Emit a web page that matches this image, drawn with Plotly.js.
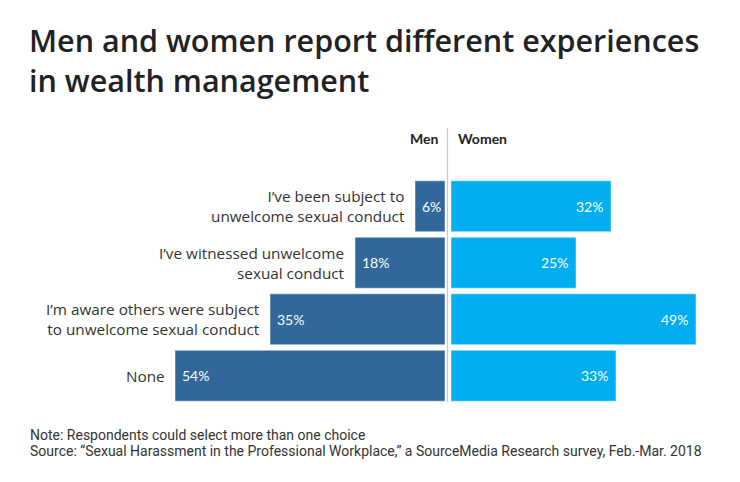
<!DOCTYPE html>
<html>
<head>
<meta charset="utf-8">
<script src="https://cdn.plot.ly/plotly-3.0.1.min.js"></script>
<style>html,body{margin:0;padding:0;background:#fff}#chart{width:740px;height:482px}</style>
</head>
<body>
<div id="chart"></div>
<script>
const categories = [
  "I\u2019ve been subject to<br>unwelcome sexual conduct",
  "I\u2019ve witnessed unwelcome<br>sexual conduct",
  "I\u2019m aware others were subject<br>to unwelcome sexual conduct",
  "None"
];
const men = [6, 18, 35, 54];
const women = [32, 25, 49, 33];
const seriesNames = ["Men", "Women"];
const titleLines = ["Men and women report different experiences", "in wealth management"];
const noteText = "Note: Respondents could select more than one choice";
const sourceText = "Source: \u201cSexual Harassment in the Professional Workplace,\u201d a SourceMedia Research survey, Feb.-Mar. 2018";

const W = 740, H = 482;
const mt = 178, mb = 78;
const plotH = H - mt - mb;
const pxToPaperY = py => (H - mb - py) / plotH;
const scale = 5; // px per percent
const menRight = 445, womenLeft = 451;

const menColor = "#31679a";
const womenColor = "#00aeef";
const font = "Lato, 'Open Sans', sans-serif";
const wideFont = "'Open Sans', sans-serif";

const traces = [
  {type: "bar", orientation: "h", name: seriesNames[0], x: men, y: categories,
   xaxis: "x", yaxis: "y", marker: {color: menColor, line: {color: "rgba(255,255,255,0.45)", width: 1}},
   hoverinfo: "x+y"},
  {type: "bar", orientation: "h", name: seriesNames[1], x: women, y: categories,
   xaxis: "x2", yaxis: "y", marker: {color: womenColor, line: {color: "rgba(255,255,255,0.45)", width: 1}},
   hoverinfo: "x+y"}
];

const annotations = [];
categories.forEach((c, i) => {
  annotations.push({xref: "x", yref: "y", x: men[i], y: c, text: c, showarrow: false,
    xanchor: "right", yanchor: "middle", xshift: -8, align: "right",
    font: {family: wideFont, size: 15.3, color: "#333"}});
  annotations.push({xref: "x", yref: "y", x: men[i], y: c, text: men[i] + "%", showarrow: false,
    xanchor: "left", yanchor: "middle", xshift: 5,
    font: {family: font, size: 14, color: "#fff"}});
  annotations.push({xref: "x2", yref: "y", x: women[i], y: c, text: women[i] + "%", showarrow: false,
    xanchor: "right", yanchor: "middle", xshift: -6,
    font: {family: font, size: 14, color: "#fff"}});
});
annotations.push({xref: "paper", yref: "paper", x: 440 / W, y: pxToPaperY(138), text: "<b>" + seriesNames[0] + "</b>",
  showarrow: false, xanchor: "right", yanchor: "middle", font: {family: font, size: 14, color: "#222"}});
annotations.push({xref: "paper", yref: "paper", x: 456 / W, y: pxToPaperY(138), text: "<b>" + seriesNames[1] + "</b>",
  showarrow: false, xanchor: "left", yanchor: "middle", font: {family: font, size: 14, color: "#222"}});
annotations.push({xref: "paper", yref: "paper", x: 27 / W, y: pxToPaperY(60), text: titleLines.join("<br>"),
  showarrow: false, xanchor: "left", yanchor: "middle", align: "left",
  font: {family: wideFont, size: 30.5, weight: 600, color: "#222"}});
annotations.push({xref: "paper", yref: "paper", x: 28 / W, y: pxToPaperY(435), text: noteText,
  showarrow: false, xanchor: "left", yanchor: "middle", font: {family: "Roboto, sans-serif", size: 14, color: "#333"}});
annotations.push({xref: "paper", yref: "paper", x: 28 / W, y: pxToPaperY(451), text: sourceText,
  showarrow: false, xanchor: "left", yanchor: "middle", font: {family: "Roboto, sans-serif", size: 14, color: "#333"}});

const layout = {
  width: W, height: H,
  margin: {l: 0, r: 0, t: mt, b: mb, pad: 0},
  paper_bgcolor: "#fff", plot_bgcolor: "#fff",
  showlegend: false,
  bargap: 0.1,
  xaxis: {domain: [0, menRight / W], range: [menRight / scale, 0], visible: false, fixedrange: true},
  xaxis2: {domain: [womenLeft / W, 1], range: [0, (W - womenLeft) / scale], visible: false, fixedrange: true},
  yaxis: {type: "category", autorange: "reversed", visible: false, fixedrange: true},
  shapes: [{type: "line", xref: "paper", yref: "paper", x0: 447.5 / W, x1: 447.5 / W,
    y0: pxToPaperY(128), y1: pxToPaperY(402), line: {color: "#c8c8c8", width: 1.2}}],
  annotations: annotations,
  font: {family: font}
};

Plotly.newPlot("chart", traces, layout, {displayModeBar: false, staticPlot: true});
</script>
</body>
</html>
